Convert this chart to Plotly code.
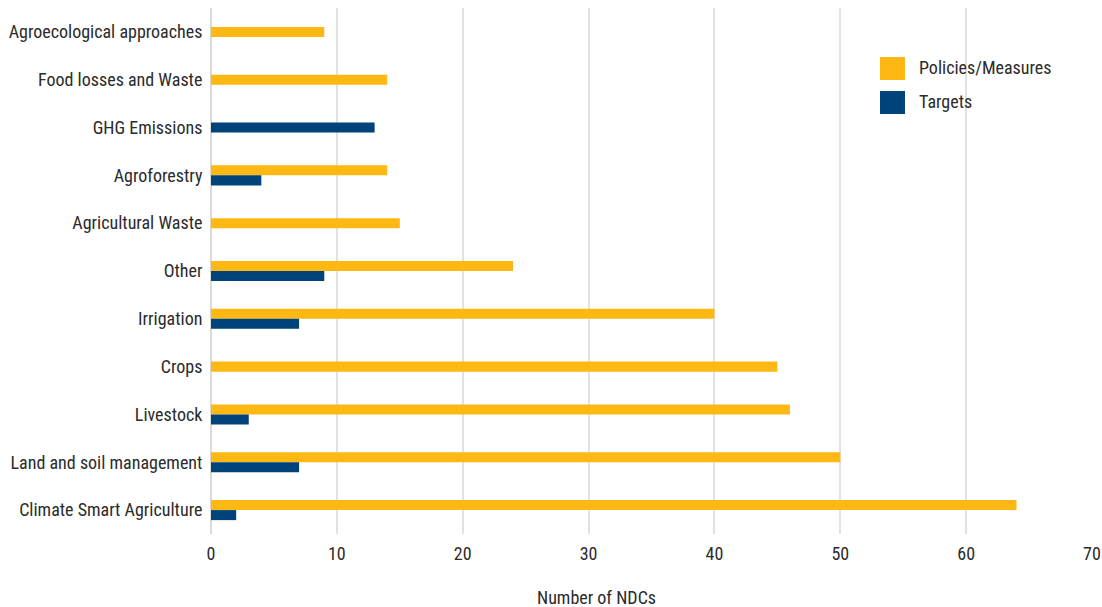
import plotly.graph_objects as go

# Categories listed bottom-to-top
categories = [
    "Climate Smart Agriculture",
    "Land and soil management",
    "Livestock",
    "Crops",
    "Irrigation",
    "Other",
    "Agricultural Waste",
    "Agroforestry",
    "GHG Emissions",
    "Food losses and Waste",
    "Agroecological approaches",
]
policies = [64, 50, 46, 45, 40, 24, 15, 14, 0, 14, 9]
targets = [2, 7, 3, 0, 7, 9, 0, 4, 13, 0, 0]

x_ticks = [0, 10, 20, 30, 40, 50, 60, 70]

ORANGE = "#FDB813"
BLUE = "#00427A"
FONT = "Roboto Condensed, Liberation Sans Narrow, Arial Narrow, Roboto, sans-serif"
TEXT = "#2b2b2b"

W = 0.21  # bar thickness in category units

# Paired bars sit on either side of the category line; a lone bar is centred.
pol_off, tgt_off = [], []
for p, t in zip(policies, targets):
    if p and t:
        pol_off.append(0.0)
        tgt_off.append(-W)
    else:
        pol_off.append(-W / 2)
        tgt_off.append(-W / 2)

pol_y = [c for c, p in zip(categories, policies) if p]
pol_x = [p for p in policies if p]
pol_o = [o for o, p in zip(pol_off, policies) if p]
tgt_y = [c for c, t in zip(categories, targets) if t]
tgt_x = [t for t in targets if t]
tgt_o = [o for o, t in zip(tgt_off, targets) if t]

fig = go.Figure()
fig.add_trace(go.Bar(
    name="Policies/Measures", orientation="h",
    y=pol_y, x=pol_x, offset=pol_o, width=W,
    marker=dict(color=ORANGE, line=dict(width=0)),
))
fig.add_trace(go.Bar(
    name="Targets", orientation="h",
    y=tgt_y, x=tgt_x, offset=tgt_o, width=W,
    marker=dict(color=BLUE, line=dict(width=0)),
))

L, R, T, B = 211, 10, 8, 73
PW, PH = 1102 - L - R, 607 - T - B

fig.update_layout(
    width=1102, height=607,
    margin=dict(l=L, r=R, t=T, b=B, autoexpand=False),
    paper_bgcolor="white", plot_bgcolor="white",
    font=dict(family=FONT, size=18, color=TEXT),
    showlegend=False,
    barmode="overlay",
    xaxis=dict(
        range=[0, 70], tickvals=x_ticks, automargin=False,
        showgrid=True, gridcolor="#e4e2dd", gridwidth=1.5,
        zeroline=True, zerolinecolor="#dcdad5", zerolinewidth=1.5,
        showline=False, ticks="outside", ticklen=3, tickcolor="rgba(0,0,0,0)",
        tickfont=dict(size=18, color=TEXT),
    ),
    yaxis=dict(
        type="category", categoryorder="array", categoryarray=categories,
        range=[-0.5, len(categories) - 0.5], automargin=False,
        showgrid=False, zeroline=False, showline=False,
        ticks="outside", ticklen=4, tickcolor="rgba(0,0,0,0)",
        tickfont=dict(size=18, color=TEXT),
    ),
)

# Custom legend with large swatches
legend_items = [("Policies/Measures", ORANGE), ("Targets", BLUE)]
for i, (label, color) in enumerate(legend_items):
    y0 = 57 + i * 34
    fig.add_shape(
        type="rect", xref="paper", yref="paper",
        x0=(880 - L) / PW, x1=(905 - L) / PW,
        y0=1 - (y0 + 23 - T) / PH, y1=1 - (y0 - T) / PH,
        fillcolor=color, line=dict(width=0),
    )
    fig.add_annotation(
        xref="paper", yref="paper",
        x=(917 - L) / PW, y=1 - (y0 + 10 - T) / PH,
        text=label, showarrow=False, xanchor="left", yanchor="middle",
        font=dict(size=18, color=TEXT),
    )

fig.add_annotation(
    xref="paper", yref="paper",
    x=(596 - L) / PW, y=1 - (597 - T) / PH,
    text="Number of NDCs", showarrow=False,
    xanchor="center", yanchor="middle",
    font=dict(size=18, color=TEXT),
)

fig.write_html("out.html")
